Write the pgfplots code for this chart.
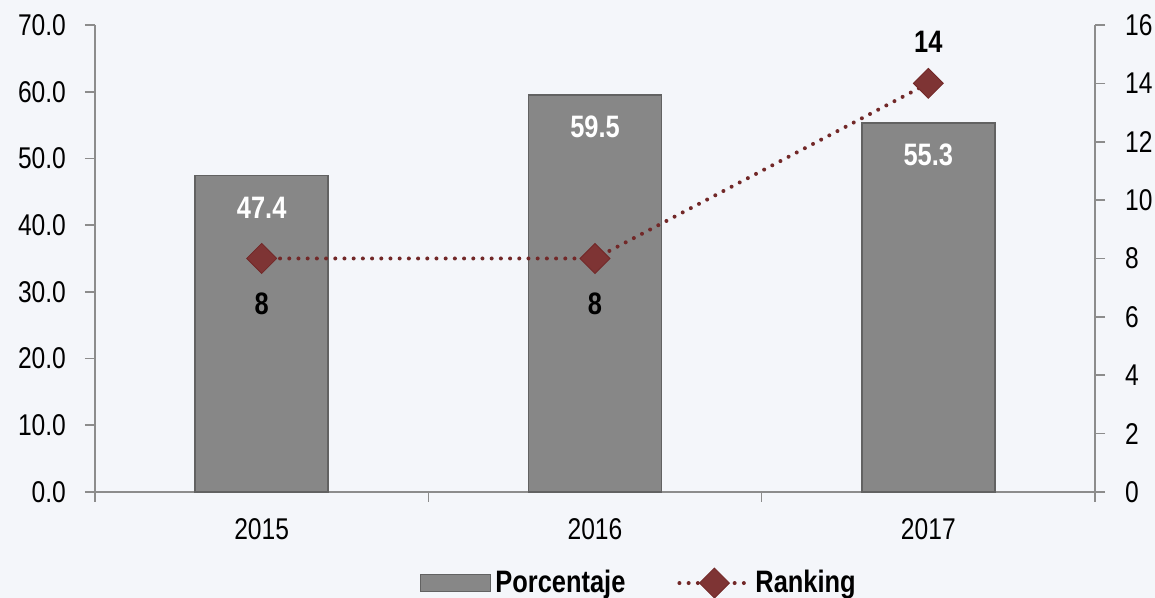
\documentclass[border=0pt]{standalone}
\usepackage{pgfplots}
\pgfplotsset{compat=1.18}
\usepackage{fontspec}
\setmainfont{Liberation Sans}[FakeStretch=0.82]
\usetikzlibrary{backgrounds}

\definecolor{bg}{HTML}{F4F6FA}
\definecolor{bargray}{HTML}{878787}
\definecolor{baredge}{HTML}{626262}
\definecolor{rankred}{HTML}{722828}
\definecolor{rankfill}{HTML}{7E3434}
\definecolor{axisgray}{HTML}{8C8C8C}

\begin{document}
\begin{tikzpicture}[show background rectangle,
  background rectangle/.style={fill=bg, draw=none}, inner frame sep=0pt]
\begin{axis}[
    name=main,
    scale only axis,
    width=500pt, height=233.5pt,
    xmin=-0.5, xmax=2.5,
    ymin=0, ymax=70,
    axis x line*=bottom,
    axis y line*=left,
    axis line style={axisgray, line width=0.8pt},
    tick style={axisgray, line width=0.8pt},
    tick align=outside,
    xtick={0,1,2},
    xticklabels={2015,2016,2017},
    major x tick style={draw=none},
    minor xtick={-0.5,0.5,1.5,2.5},
    minor tick length=5pt,
    major tick length=5pt,
    ytick={0,10,...,70},
    yticklabel={\pgfmathprintnumber[fixed,fixed zerofill,precision=1]{\tick}},
    /pgf/number format/assume math mode=true,
    ticklabel style={font=\fontsize{15}{18}\selectfont, text=black},
    yticklabel style={xshift=-6pt},
    xticklabel style={yshift=-5pt},
    ybar, bar width=66.5pt,
    enlarge x limits=false,
    clip=false,
]
\addplot[fill=bargray, draw=baredge, line width=0.7pt,
    nodes near coords,
    nodes near coords style={font=\fontsize{15.5}{18}\selectfont\bfseries, text=white,
        anchor=center, yshift=-16pt},
    point meta=explicit symbolic]
    coordinates {(0,47.4) [47.4] (1,59.5) [59.5] (2,55.3) [55.3]};
\end{axis}

\begin{axis}[
    scale only axis,
    width=500pt, height=233.5pt,
    xmin=-0.5, xmax=2.5,
    ymin=0, ymax=16,
    axis x line=none,
    axis y line*=right,
    axis line style={axisgray, line width=0.8pt},
    tick style={axisgray, line width=0.8pt},
    tick align=outside,
    major tick length=5pt,
    ytick={0,2,...,16},
    /pgf/number format/assume math mode=true,
    ticklabel style={font=\fontsize{15}{18}\selectfont, text=black},
    yticklabel style={xshift=6.5pt},
    clip=false,
    legend style={at={(0.545,-0.195)}, anchor=center, draw=none, fill=none,
        legend columns=2, font=\fontsize{15.5}{18}\selectfont\bfseries,
        /tikz/every even column/.append style={column sep=24pt}},
]
\addlegendimage{legend image code/.code={
    \draw[fill=bargray, draw=baredge, line width=0.6pt] (0pt,-4.2pt) rectangle (35pt,4.2pt);}}
\addlegendentry{Porcentaje}
\addplot[rankred, line width=2pt, line cap=round, dash pattern=on 0pt off 4.6pt,
    mark=square*, mark size=5.3pt,
    mark options={solid, rotate=45, fill=rankfill, draw=rankred, line width=0.4pt},
    legend image code/.code={
      \draw[rankred, line width=2pt, line cap=round, dash pattern=on 0pt off 4.6pt]
        (0pt,0pt) -- (35pt,0pt);
      \draw[solid, fill=rankfill, draw=rankred, line width=0.4pt]
        (17.5pt,7.5pt) -- (25pt,0pt) -- (17.5pt,-7.5pt) -- (10pt,0pt) -- cycle;}]
    coordinates {(0,8) (1,8) (2,14)};
\addlegendentry{Ranking}
\addplot[draw=none, forget plot,
    nodes near coords,
    nodes near coords style={font=\fontsize{15.5}{18}\selectfont\bfseries, text=black,
        anchor=center, yshift=-22.5pt}]
    coordinates {(0,8) (1,8)};
\addplot[draw=none, forget plot,
    nodes near coords,
    nodes near coords style={font=\fontsize{15.5}{18}\selectfont\bfseries, text=black,
        anchor=center, yshift=21pt}]
    coordinates {(2,14)};
\end{axis}
\pgfresetboundingbox
\path ([xshift=-47.5pt,yshift=-53pt]main.south west)
  rectangle ([xshift=30pt,yshift=12.5pt]main.north east);
\end{tikzpicture}
\end{document}
